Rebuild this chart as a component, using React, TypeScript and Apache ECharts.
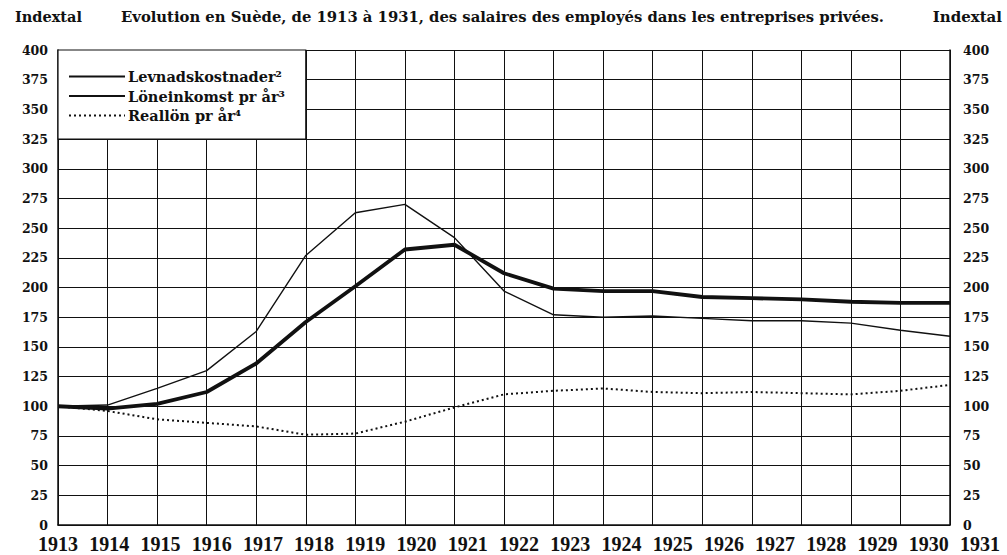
import React, { useEffect, useRef } from "react";
import * as echarts from "echarts";

const years = ["1913","1914","1915","1916","1917","1918","1919","1920","1921","1922","1923","1924","1925","1926","1927","1928","1929","1930","1931"];
const levnadskostnader = [100, 101, 115, 130, 163, 227, 263, 270, 242, 197, 177, 175, 176, 174, 172, 172, 170, 164, 159];
const loneinkomst = [100, 98, 102, 112, 136, 171, 201, 232, 236, 212, 199, 197, 197, 192, 191, 190, 188, 187, 187];
const reallon = [100, 96, 89, 86, 83, 76, 77, 87, 99, 110, 113, 115, 112, 111, 112, 111, 110, 113, 118];
const seriesNames = ["Levnadskostnader²", "Löneinkomst pr år³", "Reallön pr år⁴"];
const titleText = "Evolution en Suède, de 1913 à 1931, des salaires des employés dans les entreprises privées.";
const axisTitle = "Indextal";

const SERIF = "'DejaVu Serif', 'Liberation Serif', serif";
const INK = "#111";

export default function App() {
  const ref = useRef<HTMLDivElement>(null);
  useEffect(() => {
    document.body.style.margin = "0";
    const chart = echarts.init(ref.current!, undefined, { renderer: "svg" });
    const option: any = {
      animation: false,
      backgroundColor: "#fff",
      title: [
        { text: axisTitle, left: 10, top: 4, textStyle: { fontFamily: SERIF, fontSize: 14.5, fontWeight: "bold", color: INK } },
        { text: titleText, left: 116, top: 4, textStyle: { fontFamily: SERIF, fontSize: 14.8, fontWeight: "bold", color: INK } },
        { text: axisTitle, right: 0, top: 4, textStyle: { fontFamily: SERIF, fontSize: 15, fontWeight: "bold", color: INK } },
      ],
      legend: {
        orient: "vertical",
        left: 68,
        top: 69,
        padding: 0,
        z: 10,
        itemWidth: 56,
        itemHeight: 15,
        itemGap: 4.5,
        data: seriesNames,
        itemStyle: { opacity: 0 },
        textStyle: { fontFamily: SERIF, fontSize: 14.5, fontWeight: "bold", color: INK, lineHeight: 15, padding: [0, 0, 0, -2] },
      },
      grid: [
        { left: 58, right: 57, top: 50, bottom: 30 },
        { left: 58, right: 27, top: 50, bottom: 30 },
      ],
      xAxis: [
        {
          type: "category", gridIndex: 0, data: years, boundaryGap: false,
          axisLine: { show: true, lineStyle: { color: INK, width: 1.5 } },
          axisTick: { show: false }, axisLabel: { show: false },
          splitLine: { show: true, interval: 0, lineStyle: { color: INK, width: 1 } },
        },
        {
          type: "category", gridIndex: 1, data: years, boundaryGap: false,
          axisLine: { show: false }, axisTick: { show: false }, splitLine: { show: false },
          axisLabel: { interval: 0, margin: 9, fontFamily: "'Liberation Serif', serif", fontSize: 20, fontWeight: "bold", color: INK },
        },
      ],
      yAxis: [
        {
          type: "value", gridIndex: 0, min: 0, max: 400, interval: 25, position: "left",
          axisLine: { show: true, lineStyle: { color: INK, width: 1.5 } },
          axisTick: { show: false },
          axisLabel: { margin: 10, fontFamily: SERIF, fontSize: 12.5, fontWeight: "bold", color: INK },
          splitLine: { show: true, lineStyle: { color: INK, width: 1 } },
        },
        {
          type: "value", gridIndex: 0, min: 0, max: 400, interval: 25, position: "right",
          axisLine: { show: true, lineStyle: { color: INK, width: 1.5 } },
          axisTick: { show: false },
          axisLabel: { margin: 13, fontFamily: SERIF, fontSize: 12.5, fontWeight: "bold", color: INK },
          splitLine: { show: false },
        },
        { type: "value", gridIndex: 1, min: 0, max: 400, show: false },
      ],
      series: [
        { name: seriesNames[0], type: "line", data: levnadskostnader, symbol: "none", xAxisIndex: 0, yAxisIndex: 0, z: 5,
          lineStyle: { color: INK, width: 1.4 }, itemStyle: { color: INK } },
        { name: seriesNames[1], type: "line", data: loneinkomst, symbol: "none", xAxisIndex: 0, yAxisIndex: 0, z: 5,
          lineStyle: { color: INK, width: 3.8 }, itemStyle: { color: INK } },
        { name: seriesNames[2], type: "line", data: reallon, symbol: "none", xAxisIndex: 0, yAxisIndex: 0, z: 5,
          lineStyle: { color: INK, width: 2, type: [2, 3] }, itemStyle: { color: INK } },
      ],
    };
    chart.setOption(option);
    const p1 = chart.convertToPixel({ xAxisIndex: 0, yAxisIndex: 0 }, [0, 400]);
    const p2 = chart.convertToPixel({ xAxisIndex: 0, yAxisIndex: 0 }, [5, 325]);
    chart.setOption({
      graphic: [
        {
          type: "rect", z: 3,
          shape: { x: p1[0], y: p1[1], width: p2[0] - p1[0], height: p2[1] - p1[1] },
          style: { fill: "#fff", stroke: INK, lineWidth: 1.2 },
        },
      ],
    });
    return () => chart.dispose();
  }, []);
  return <div ref={ref} style={{ width: 1007, height: 555 }} />;
}
